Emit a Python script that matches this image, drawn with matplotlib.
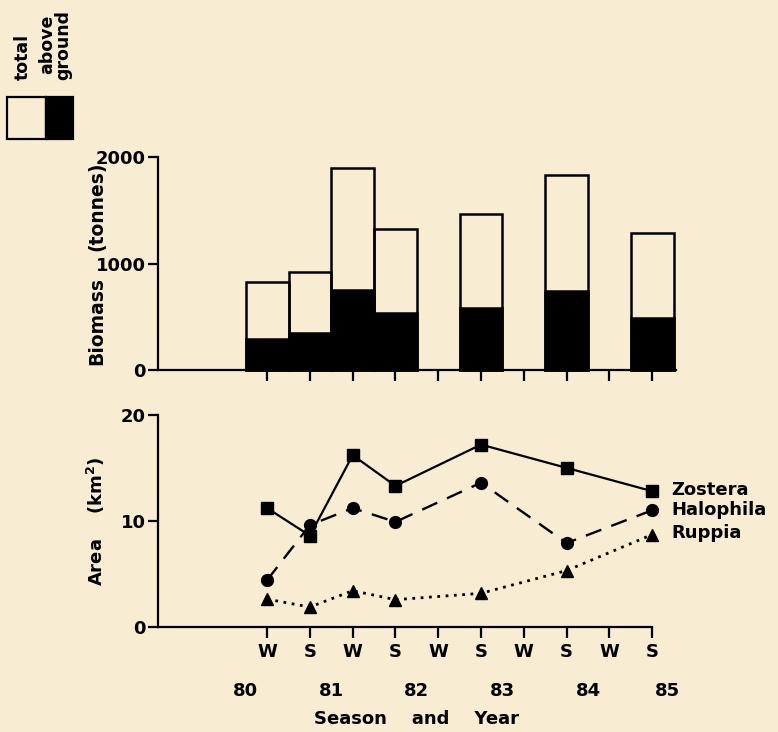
import matplotlib.pyplot as plt
from matplotlib.patches import Rectangle

plt.rcParams['font.family'] = ['DejaVu Sans']
plt.rcParams['font.weight'] = 'bold'
plt.rcParams['mathtext.fontset'] = 'dejavusans'

bg = '#f8ecd2'

# season ticks (W80 ... S85)
seasons = ['W', 'S', 'W', 'S', 'W', 'S', 'W', 'S', 'W', 'S']
season_pos = list(range(10))
years = ['80', '81', '82', '83', '84', '85']
year_pos = [-0.5, 1.5, 3.5, 5.5, 7.5, 9.35]

# biomass (tonnes)
bar_pos = [0, 1, 2, 3, 5, 7, 9]
total = [825, 920, 1898, 1328, 1468, 1838, 1287]
above_ground = [290, 352, 752, 533, 587, 744, 493]

# area (km2)
area_pos = [0, 1, 2, 3, 5, 7, 9]
zostera = [11.2, 8.6, 16.2, 13.3, 17.2, 15.0, 12.8]
halophila = [4.4, 9.6, 11.2, 9.9, 13.6, 7.9, 11.0]
ruppia = [2.6, 1.85, 3.4, 2.55, 3.15, 5.3, 8.7]

fig = plt.figure(figsize=(7.78, 7.32), dpi=100, facecolor=bg)
xmin, xmax = -2.55, 9.55

# ---- top panel: biomass bars
ax1 = fig.add_axes([0.2031, 0.4945, 0.6654, 0.2906], facecolor=bg)
ax1.bar(bar_pos, total, width=1.0, fill=False, edgecolor='k', linewidth=1.8, clip_on=False)
ax1.bar(bar_pos, above_ground, width=1.0, color='k', edgecolor='k', linewidth=1.8, clip_on=False)
ax1.set_xlim(xmin, xmax)
ax1.set_ylim(0, 2000)
ax1.set_yticks([0, 1000, 2000])
ax1.set_xticks(season_pos)
ax1.set_xticklabels([])
# y label split in two so the 1000 tick label sits in the gap, as in the original
ax1.text(-0.118, 0.23, 'Biomass', transform=ax1.transAxes, rotation=90,
         ha='center', va='center', fontsize=13.5, fontweight='bold')
ax1.text(-0.118, 0.77, '(tonnes)', transform=ax1.transAxes, rotation=90,
         ha='center', va='center', fontsize=13.5, fontweight='bold')

# ---- bottom panel: area lines
ax2 = fig.add_axes([0.2031, 0.1439, 0.6654, 0.2892], facecolor=bg)
ax2.plot(area_pos, zostera, color='k', linestyle='-', linewidth=1.6,
         marker='s', markersize=8, clip_on=False)
ax2.plot(area_pos, halophila, color='k', linestyle=(0, (7, 4.5)), linewidth=1.7,
         marker='o', markersize=8.5, clip_on=False)
ax2.plot(area_pos, ruppia, color='k', linestyle=(0, (1, 2.0)), linewidth=2.0,
         marker='^', markersize=8, clip_on=False)
ax2.annotate('Zostera', (area_pos[-1], zostera[-1]), xytext=(14, 1), textcoords='offset points',
             va='center', fontsize=13, fontweight='bold')
ax2.annotate('Halophila', (area_pos[-1], halophila[-1]), xytext=(14, 0), textcoords='offset points',
             va='center', fontsize=13, fontweight='bold')
ax2.annotate('Ruppia', (area_pos[-1], ruppia[-1]), xytext=(14, 1), textcoords='offset points',
             va='center', fontsize=13, fontweight='bold')
ax2.set_xlim(xmin, xmax)
ax2.set_ylim(0, 20)
ax2.set_yticks([0, 10, 20])
ax2.set_xticks(season_pos)
ax2.set_xticklabels(seasons)
ax2.set_xticks(year_pos, years, minor=True)
ax2.set_ylabel('Area    (km$^{\\mathbf{2}}$)', fontsize=13, fontweight='bold')
ax2.yaxis.set_label_coords(-0.098, 0.5)
ax2.set_xlabel('Season    and    Year', fontsize=13, fontweight='bold', labelpad=7)

for ax, right in ((ax1, xmax), (ax2, 9)):
    ax.spines['top'].set_visible(False)
    ax.spines['right'].set_visible(False)
    ax.spines['left'].set_linewidth(1.6)
    ax.spines['bottom'].set_linewidth(1.6)
    ax.spines['bottom'].set_bounds(xmin, right)
    ax.tick_params(axis='both', which='major', direction='out', width=1.6,
                   labelsize=13, colors='k')
    ax.tick_params(axis='y', length=7, pad=2)
    ax.tick_params(axis='x', which='major', length=8, pad=4)
    for lab in ax.get_xticklabels(which='both') + ax.get_yticklabels():
        lab.set_fontweight('bold')

ax2.tick_params(axis='x', which='minor', length=0, pad=40, labelsize=13)
for lab in ax2.get_xticklabels(minor=True):
    lab.set_fontweight('bold')

# ---- key at top left
fig.add_artist(Rectangle((0.009, 0.8101), 0.0501, 0.0574, transform=fig.transFigure,
                         facecolor=bg, edgecolor='k', linewidth=1.6))
fig.add_artist(Rectangle((0.0591, 0.8101), 0.0347, 0.0574, transform=fig.transFigure,
                         facecolor='k', edgecolor='k', linewidth=1.6))
fig.text(0.029, 0.891, 'total', rotation=90, ha='center', va='bottom',
         fontsize=12.5, fontweight='bold')
fig.text(0.071, 0.891, 'above\nground', rotation=90, ha='center', va='bottom',
         fontsize=12.5, fontweight='bold', linespacing=0.8)

fig.savefig('out.png', dpi=100, facecolor=bg)
